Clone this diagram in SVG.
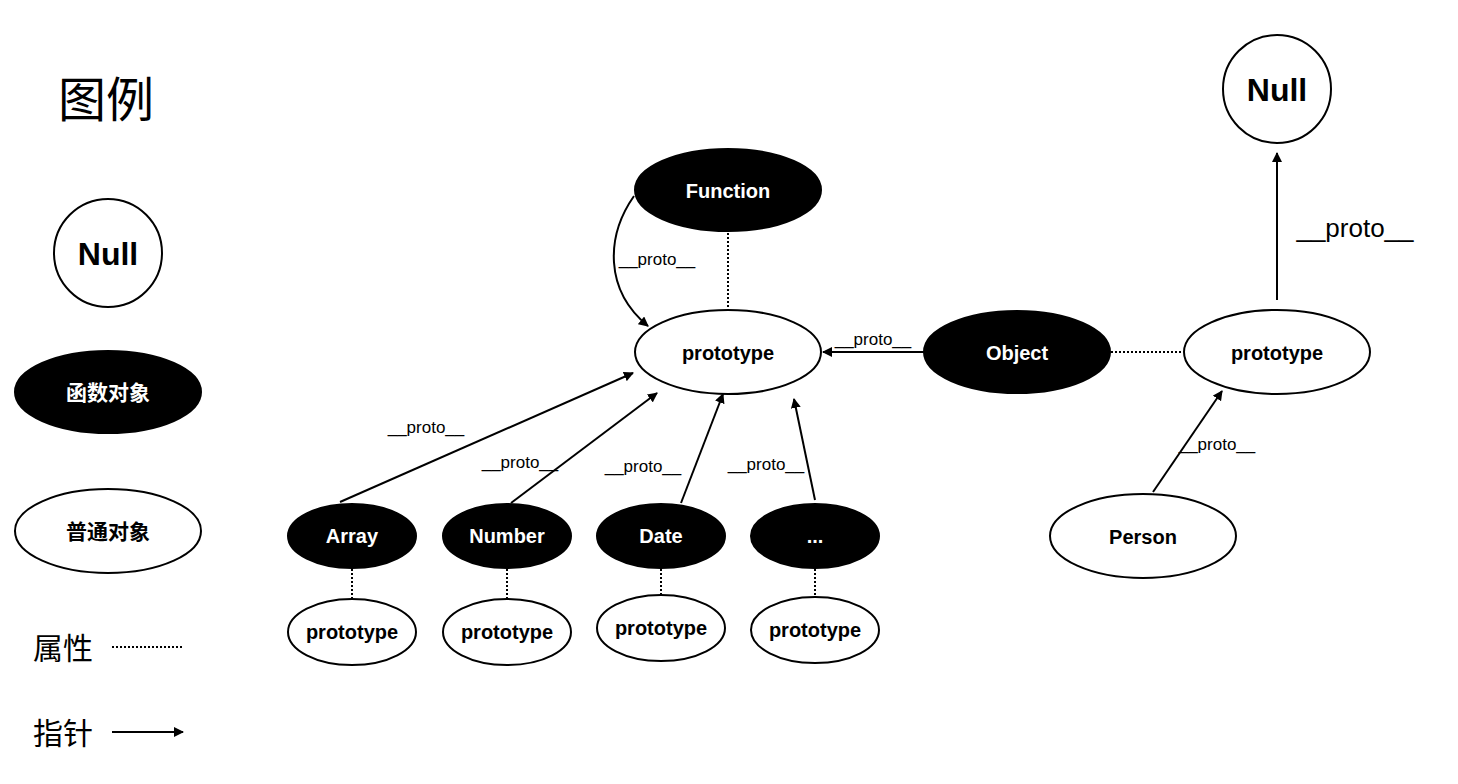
<svg xmlns="http://www.w3.org/2000/svg" width="1458" height="784" viewBox="0 0 1458 784">
<style>
  .fn { fill: #000; stroke: #000; stroke-width: 2; }
  .ob { fill: #fff; stroke: #000; stroke-width: 2; }
  .t { font-family: "Liberation Sans", Arial, sans-serif; font-weight: bold; font-size: 20px; text-anchor: middle; }
  .tw { fill: #fff; }
  .tb { fill: #000; }
  .null { font-size: 32px; }
  .lbl { font-family: "Liberation Sans", Arial, sans-serif; font-size: 17px; text-anchor: middle; fill: #000; }
  .big { font-size: 26px; }
  .cjk { font-family: "Liberation Sans", "Noto Sans CJK SC", sans-serif; fill: #000; }
  .ptr { fill: none; stroke: #000; stroke-width: 2; marker-end: url(#ah); }
  .prop { fill: none; stroke: #000; stroke-width: 2; stroke-dasharray: 2 2; }
</style>
<defs>
  <marker id="ah" viewBox="0 0 10 10" refX="9" refY="5" markerWidth="5" markerHeight="5" orient="auto" markerUnits="strokeWidth">
    <path d="M0,0 L10,5 L0,10 z" fill="#000"/>
  </marker>
</defs>
<rect width="1458" height="784" fill="#fff"/>

<g id="legend">
  <text x="58" y="117" class="cjk" font-size="48">图例</text>
  <g id="legend-null">
    <circle cx="108" cy="253" r="54" class="ob"/>
    <text x="108" y="265" class="t tb null">Null</text>
  </g>
  <g id="legend-func">
    <ellipse cx="108" cy="392" rx="93" ry="41" class="fn"/>
    <text x="108" y="400" class="cjk" font-size="21" font-weight="bold" style="fill:#fff" text-anchor="middle">函数对象</text>
  </g>
  <g id="legend-obj">
    <ellipse cx="108" cy="531" rx="93" ry="42" class="ob"/>
    <text x="108" y="539" class="cjk" font-size="21" font-weight="bold" text-anchor="middle">普通对象</text>
  </g>
  <g id="legend-prop">
    <text x="33" y="659" class="cjk" font-size="30">属性</text>
    <line x1="112" y1="647" x2="184" y2="647" class="prop" stroke-width="1.5"/>
  </g>
  <g id="legend-ptr">
    <text x="33" y="744" class="cjk" font-size="30">指针</text>
    <line x1="112" y1="732" x2="183" y2="732" class="ptr"/>
  </g>
</g>

<g id="connectors">
  <line x1="728" y1="233" x2="728" y2="309" class="prop"/>
  <path d="M634 196 C606 236 604 290 648 326" class="ptr"/>
  <line x1="924" y1="352" x2="823" y2="352" class="ptr"/>
  <line x1="1111" y1="352" x2="1182" y2="352" class="prop"/>
  <line x1="1277" y1="300" x2="1277" y2="153" class="ptr"/>
  <line x1="1153" y1="492" x2="1222" y2="391" class="ptr"/>
  <line x1="340" y1="502" x2="633" y2="373" class="ptr"/>
  <line x1="511" y1="503" x2="657" y2="393" class="ptr"/>
  <line x1="681" y1="503" x2="723" y2="394" class="ptr"/>
  <line x1="815" y1="500" x2="794" y2="399" class="ptr"/>
  <line x1="352" y1="569" x2="352" y2="599" class="prop"/>
  <line x1="507" y1="569" x2="507" y2="599" class="prop"/>
  <line x1="661" y1="569" x2="661" y2="595" class="prop"/>
  <line x1="815" y1="569" x2="815" y2="597" class="prop"/>
  <text x="657" y="265" class="lbl">__proto__</text>
  <text x="873" y="345" class="lbl">__proto__</text>
  <text x="1355" y="237" class="lbl big">__proto__</text>
  <text x="1217" y="450" class="lbl">__proto__</text>
  <text x="426" y="433" class="lbl">__proto__</text>
  <text x="520" y="468" class="lbl">__proto__</text>
  <text x="643" y="472" class="lbl">__proto__</text>
  <text x="766" y="470" class="lbl">__proto__</text>
</g>

<g id="function">
  <ellipse cx="728" cy="190" rx="93" ry="41" class="fn"/>
  <text x="728" y="198" class="t tw">Function</text>
</g>
<g id="function-prototype">
  <ellipse cx="728" cy="352" rx="93" ry="42" class="ob"/>
  <text x="728" y="360" class="t tb">prototype</text>
</g>
<g id="object">
  <ellipse cx="1017" cy="352" rx="93" ry="41" class="fn"/>
  <text x="1017" y="360" class="t tw">Object</text>
</g>
<g id="object-prototype">
  <ellipse cx="1277" cy="352" rx="93" ry="42" class="ob"/>
  <text x="1277" y="360" class="t tb">prototype</text>
</g>
<g id="null">
  <circle cx="1277" cy="89" r="54" class="ob"/>
  <text x="1277" y="101" class="t tb null">Null</text>
</g>
<g id="person">
  <ellipse cx="1143" cy="536" rx="93" ry="42" class="ob"/>
  <text x="1143" y="544" class="t tb">Person</text>
</g>

<g id="array">
  <ellipse cx="352" cy="536" rx="64" ry="32" class="fn"/>
  <text x="352" y="543" class="t tw">Array</text>
</g>
<g id="array-prototype">
  <ellipse cx="352" cy="632" rx="64" ry="33" class="ob"/>
  <text x="352" y="639" class="t tb">prototype</text>
</g>
<g id="number">
  <ellipse cx="507" cy="536" rx="64" ry="32" class="fn"/>
  <text x="507" y="543" class="t tw">Number</text>
</g>
<g id="number-prototype">
  <ellipse cx="507" cy="632" rx="64" ry="33" class="ob"/>
  <text x="507" y="639" class="t tb">prototype</text>
</g>
<g id="date">
  <ellipse cx="661" cy="536" rx="64" ry="32" class="fn"/>
  <text x="661" y="543" class="t tw">Date</text>
</g>
<g id="date-prototype">
  <ellipse cx="661" cy="628" rx="64" ry="33" class="ob"/>
  <text x="661" y="635" class="t tb">prototype</text>
</g>
<g id="more">
  <ellipse cx="815" cy="536" rx="64" ry="32" class="fn"/>
  <text x="815" y="543" class="t tw">...</text>
</g>
<g id="more-prototype">
  <ellipse cx="815" cy="630" rx="64" ry="33" class="ob"/>
  <text x="815" y="637" class="t tb">prototype</text>
</g>
</svg>
